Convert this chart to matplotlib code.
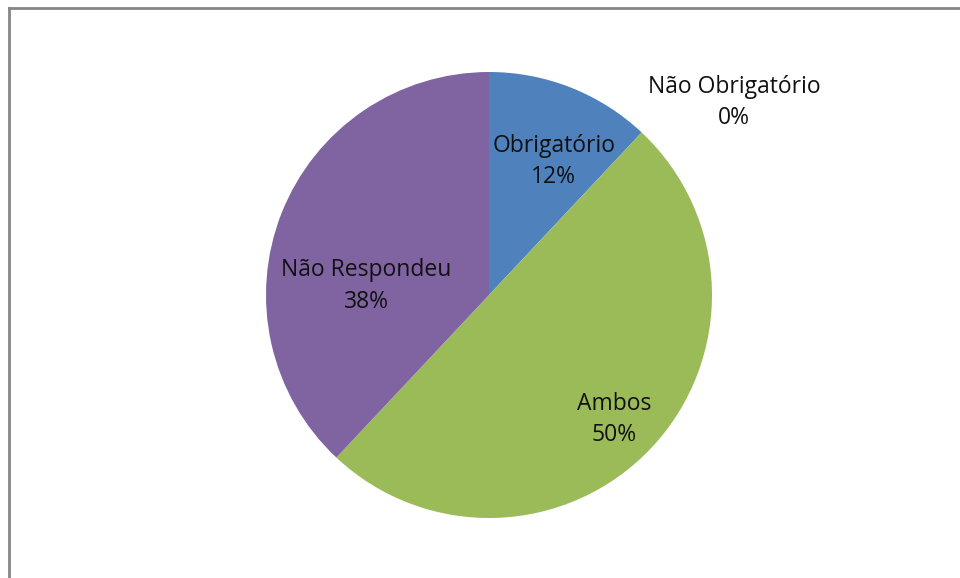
import matplotlib.pyplot as plt
from matplotlib.lines import Line2D

# slice data (clockwise from 12 o'clock)
labels = ['Obrigatório', 'Não Obrigatório', 'Ambos', 'Não Respondeu']
values = [12, 0, 50, 38]
colors = ['#4F81BD', '#C0504D', '#9BBB59', '#8064A2']

# label positions, in units of pie radius relative to centre
label_pos = [(0.29, 0.60), (1.10, 0.865), (0.56, -0.56), (-0.55, 0.04)]

W, H = 960, 578
fig = plt.figure(figsize=(W / 100, H / 100), dpi=100)

# pie centre and radius in pixels
cx, cy, r = 489, 295, 223
span = 1.4
ax = fig.add_axes([(cx - span * r) / W, 1 - (cy + span * r) / H,
                   2 * span * r / W, 2 * span * r / H])
ax.pie(values, colors=colors, startangle=90, counterclock=False,
       radius=1, wedgeprops=dict(linewidth=0))
ax.set_xlim(-span, span)
ax.set_ylim(-span, span)
ax.set_aspect('equal')
ax.axis('off')

total = sum(values)
for lab, v, (x, y) in zip(labels, values, label_pos):
    ax.text(x, y, f'{lab}\n{round(100 * v / total)}%', ha='center', va='center',
            fontsize=16.5, family='Open Sans', color='#111111', linespacing=1.4)

# chart area border (cut off at right and bottom)
g = '#868686'
fig.add_artist(Line2D([8.5 / W, 8.5 / W], [0, 1 - 7.5 / H], color=g, lw=2))
fig.add_artist(Line2D([8.5 / W, 1], [1 - 7.5 / H, 1 - 7.5 / H], color=g, lw=2))

fig.savefig('out.png', dpi=100)
